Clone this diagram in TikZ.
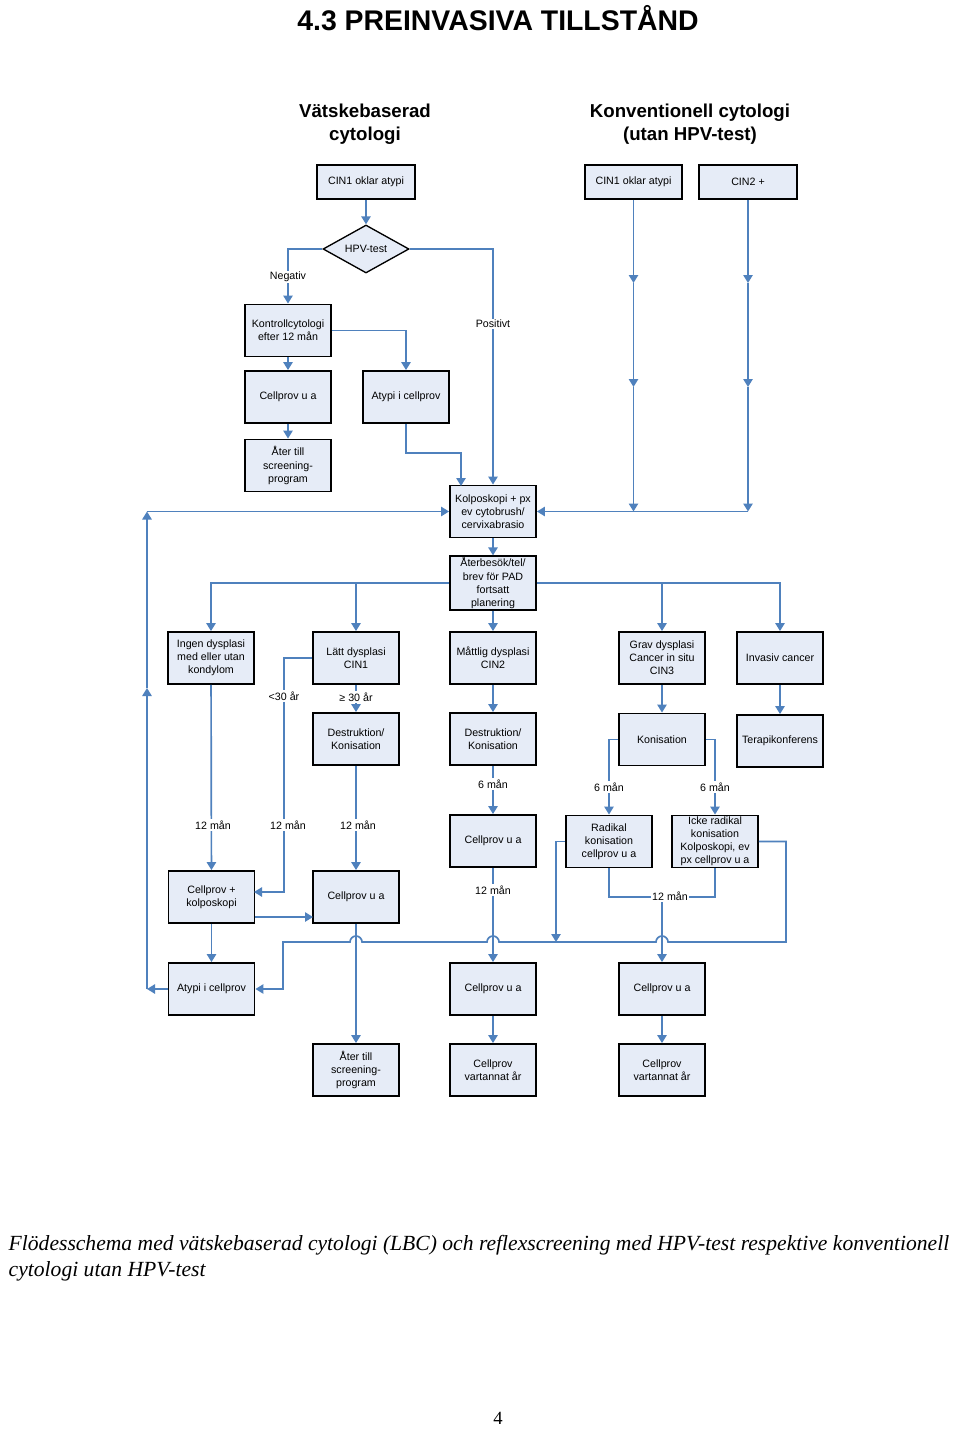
\documentclass[tikz,border=0pt]{standalone}
\usepackage{fontspec}
\setmainfont{Liberation Serif}
\newfontfamily\arialfont{Liberation Sans}
\usetikzlibrary{arrows.meta,shapes.geometric}
\definecolor{lineblue}{RGB}{79,129,189}
\definecolor{boxfill}{RGB}{230,236,247}

\begin{document}
\begin{tikzpicture}[x=0.75pt, y=-0.75pt,
    box/.style={draw, line width=1.4pt, fill=boxfill, align=center, inner sep=1pt,
      minimum width=64.5pt, minimum height=39pt, font=\arialfont\fontsize{8}{9.8}\selectfont},
    topbox/.style={box, minimum width=73pt, minimum height=25.5pt},
    lbl/.style={fill=white, inner sep=1pt, font=\arialfont\fontsize{8}{9.8}\selectfont},
    heading/.style={align=center, font=\arialfont\bfseries\fontsize{14}{17.5}\selectfont},
    link/.style={draw=lineblue, line width=1.25pt},
    arr/.style={link, -{Triangle[width=7pt, length=6pt]}}]
      \fill[white] (0,0) rectangle (960,1430);
      \useasboundingbox (0,0) rectangle (960,1430);

      \node[font=\arialfont\bfseries\fontsize{21.3}{25}\selectfont] (title) at (498,18) {4.3 PREINVASIVA TILLSTÅND};
      \node[heading] (lbc) at (365,124) {Vätskebaserad\\cytologi};
      \node[heading] (konv) at (690,124) {Konventionell cytologi\\(utan HPV-test)};

      \node[topbox] (cinA) at (366,182) {CIN1 oklar atypi};
      \node[topbox] (cinB) at (633.5,182) {CIN1 oklar atypi};
      \node[topbox] (cin2) at (748,182) {CIN2 +};
      \node[draw, line width=1pt, fill=boxfill, diamond, aspect=2, inner sep=0pt,
        minimum width=64.5pt, minimum height=36pt,
        font=\arialfont\fontsize{8}{9.8}\selectfont] (hpv) at (366,249) {HPV-test};

      \node[box] (kontroll) at (288,330.5) {Kontrollcytologi\\efter 12 mån};
      \node[box] (cellA) at (288,397) {Cellprov u a};
      \node[box] (aterA) at (288,465.5) {Åter till\\screening-\\program};
      \node[box] (atypiA) at (406,397) {Atypi i cellprov};
      \node[box] (kolpo) at (493,511.5) {Kolposkopi + px\\ev cytobrush/\\cervixabrasio};
      \node[box] (aterbesok) at (493,583) {Återbesök/tel/\\brev för PAD\\fortsatt\\planering};

      \node[box] (ingen) at (211,658) {Ingen dysplasi\\med eller utan\\kondylom};
      \node[box] (latt) at (356,658) {Lätt dysplasi\\CIN1};
      \node[box] (mattlig) at (493,658) {Måttlig dysplasi\\CIN2};
      \node[box] (grav) at (662,658) {Grav dysplasi\\Cancer in situ\\CIN3};
      \node[box] (invasiv) at (780,658) {Invasiv cancer};

      \node[box] (destrA) at (356,739) {Destruktion/\\Konisation};
      \node[box] (destrB) at (493,739) {Destruktion/\\Konisation};
      \node[box] (konis) at (662,739.5) {Konisation};
      \node[box] (terapi) at (780,741) {Terapikonferens};

      \node[box] (cellB) at (493,841) {Cellprov u a};
      \node[box] (radikal) at (609,841.5) {Radikal\\konisation\\cellprov u a};
      \node[box] (icke) at (715,841.5) {Icke radikal\\konisation\\Kolposkopi, ev\\px cellprov u a};
      \node[box] (cellKolpo) at (211.5,897) {Cellprov +\\kolposkopi};
      \node[box] (cellC) at (356,897) {Cellprov u a};

      \node[box] (atypiB) at (211.5,989) {Atypi i cellprov};
      \node[box] (cellD) at (493,989) {Cellprov u a};
      \node[box] (cellE) at (662,989) {Cellprov u a};

      \node[box] (aterB) at (356,1070) {Åter till\\screening-\\program};
      \node[box] (vart1) at (493,1070) {Cellprov\\vartannat år};
      \node[box] (vart2) at (662,1070) {Cellprov\\vartannat år};

      \coordinate (k1) at (461,486);
      \coordinate (cb1) at (633.5,283);
      \coordinate (cb2) at (633.5,387);
      \coordinate (cb3) at (633.5,511.5);
      \coordinate (c21) at (748,283);
      \coordinate (c22) at (748,387);
      \coordinate (c23) at (748,511.5);
      \coordinate (lw1) at (147,989);
      \coordinate (lw2) at (147,688);
      \coordinate (lw3) at (147,511.5);
      \coordinate (ck1) at (254,892);
      \coordinate (cc1) at (313,917);
      \coordinate (rj) at (556,942);
      \coordinate (tolv) at (662,897);

      \draw [arr] (cinA) -- (hpv);
      \draw [arr] (hpv.west) -| (kontroll.north);
      \draw [arr] (hpv.east) -| (kolpo.north);
      \draw [arr] (kontroll) -- (cellA);
      \draw [arr] (cellA) -- (aterA);
      \draw [arr] (kontroll.east) -| (atypiA.north);
      \draw [arr] (atypiA.south) -- (406,453) -- (461,453) -- (k1);

      \draw [arr] (cinB) -- (cb1);
      \draw [arr] (cb1) -- (cb2);
      \draw [arr] (cb2) -- (cb3);
      \draw [arr] (cin2) -- (c21);
      \draw [arr] (c21) -- (c22);
      \draw [arr] (c22) -- (c23);
      \draw [arr] (c23) -- (kolpo.east);

      \draw [arr] (atypiB.west) -- (lw1);
      \draw [arr] (lw1) -- (lw2);
      \draw [arr] (lw2) -- (lw3);
      \draw [arr] (lw3) -- (kolpo.west);

      \draw [arr] (kolpo) -- (aterbesok);
      \draw [arr] (aterbesok.west) -| (ingen.north);
      \draw [arr] (356,583) -- (latt.north);
      \draw [arr] (aterbesok) -- (mattlig);
      \draw [arr] (aterbesok.east) -| (invasiv.north);
      \draw [arr] (662,583) -- (grav.north);

      \draw [arr] (latt) -- (destrA);
      \draw [arr] (latt.west) -| (284,892) -- (ck1);
      \draw [arr] (mattlig) -- (destrB);
      \draw [arr] (grav) -- (konis);
      \draw [arr] (invasiv) -- (terapi);

      \draw [arr] (ingen) -- (cellKolpo);
      \draw [arr] (destrA) -- (cellC);
      \draw [arr] (destrB) -- (cellB);
      \draw [arr] (konis.west) -| (radikal.north);
      \draw [arr] (konis.east) -| (icke.north);

      \draw [arr] (cellKolpo.east |- cc1) -- (cc1);
      \draw [arr] (cellKolpo) -- (atypiB);
      \draw [arr] (cellC) -- (aterB);
      \draw [arr] (cellB) -- (cellD);
      \draw [link] (radikal.south) -- (609,897) -- (715,897) -- (icke.south);
      \draw [arr] (tolv) -- (cellE);
      \draw [arr] (radikal.west) -| (rj);
      \draw [arr] (icke.east) -- (786,841.5) -- (786,942) -- (668,942)
        arc[start angle=0, end angle=180, radius=4.5pt] -- (499,942)
        arc[start angle=0, end angle=180, radius=4.5pt] -- (362,942)
        arc[start angle=0, end angle=180, radius=4.5pt] -- (283,942) |- (atypiB.east);
      \draw [arr] (cellD) -- (vart1);
      \draw [arr] (cellE) -- (vart2);

      \node[lbl] (neg) at (288,277) {Negativ};
      \node[lbl] (pos) at (493,324) {Positivt};
      \node[lbl] (under30) at (284,696) {<30 år};
      \node[lbl] (over30) at (356,697) {≥ 30 år};
      \node[lbl] (m6a) at (493,784) {6 mån};
      \node[lbl] (m6b) at (609,787) {6 mån};
      \node[lbl] (m6c) at (715,787) {6 mån};
      \node[lbl] (m12a) at (213,825) {12 mån};
      \node[lbl] (m12b) at (288,825) {12 mån};
      \node[lbl] (m12c) at (358,825) {12 mån};
      \node[lbl] (m12d) at (493,890) {12 mån};
      \node[lbl] (m12e) at (670,896) {12 mån};

      \node[anchor=base west, font=\itshape\fontsize{16.2}{20}\selectfont] (cap1) at (4,1250)
        {Flödesschema med vätskebaserad cytologi (LBC) och reflexscreening med HPV-test respektive konventionell};
      \node[anchor=base west, font=\itshape\fontsize{16.2}{20}\selectfont] (cap2) at (4,1276)
        {cytologi utan HPV-test};
      \node[font=\fontsize{14}{17}\selectfont] (page) at (498,1418) {4};
\end{tikzpicture}
\end{document}
